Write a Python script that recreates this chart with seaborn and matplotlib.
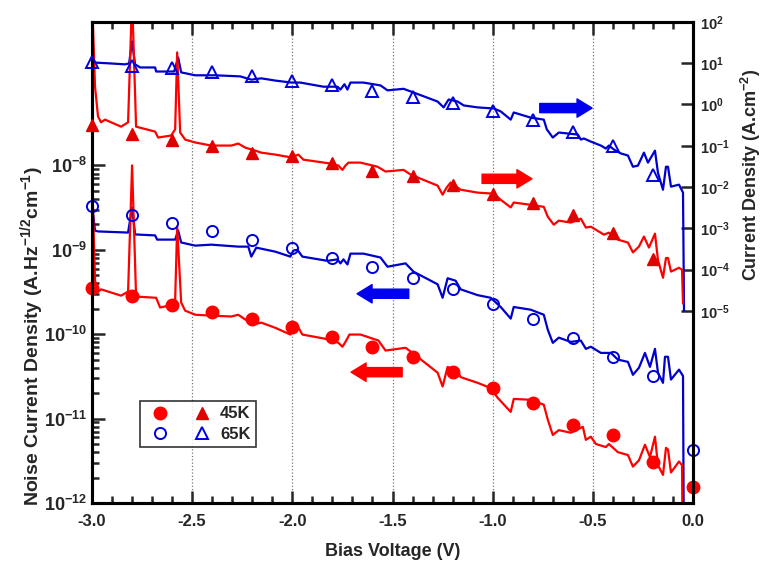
import matplotlib
matplotlib.use("Agg")
import matplotlib.pyplot as plt
import matplotlib.ticker as mticker
from matplotlib.legend_handler import HandlerTuple
import seaborn as sns

# current density 65K (right axis)
v_j65 = [-3.0, -2.99, -2.91, -2.835, -2.815, -2.80, -2.785, -2.76, -2.685, -2.68, -2.61, -2.59, -2.57, -2.555,
         -2.485, -2.385, -2.26, -2.205, -2.155, -2.085, -2.005, -1.96, -1.845, -1.775, -1.76, -1.74, -1.725, -1.71,
         -1.645, -1.56, -1.525, -1.445, -1.395, -1.275, -1.245, -1.22, -1.175, -1.145, -1.075, -0.995, -0.96, -0.91,
         -0.895, -0.81, -0.745, -0.73, -0.70, -0.67, -0.625, -0.575, -0.56, -0.545, -0.51, -0.46, -0.435, -0.42,
         -0.395, -0.36, -0.325, -0.30, -0.275, -0.245, -0.225, -0.19, -0.175, -0.15, -0.135, -0.125, -0.11, -0.07,
         -0.05, -0.045]
j65 = [16.4, 10.4, 9.9, 9.4, 9.9, 33.8, 9.4, 7.9, 7.9, 6.3, 6.3, 6.3, 13.8, 6.0,
       5.1, 5.1, 4.8, 4.0, 4.3, 3.8, 3.4, 3.4, 2.7, 2.7, 2.3, 3.1, 2.3, 3.4,
       3.4, 2.9, 2.2, 2.4, 1.95, 1.18, 0.85, 1.32, 1.18, 0.95, 0.85, 0.80, 0.68, 0.43,
       0.64, 0.48, 0.43, 0.25, 0.158, 0.209, 0.198, 0.187, 0.141, 0.150, 0.126, 0.101, 0.0855, 0.101,
       0.081, 0.065, 0.058, 0.031, 0.033, 0.068, 0.039, 0.076, 0.022, 0.0086, 0.031, 0.031, 0.0102, 0.0114,
       0.0073, 1e-5]

# current density 45K (right axis)
v_j45 = [-3.0, -2.985, -2.97, -2.955, -2.935, -2.855, -2.82, -2.80, -2.78, -2.685, -2.67, -2.605, -2.585, -2.575,
         -2.56, -2.535, -2.485, -2.405, -2.305, -2.27, -2.235, -2.185, -2.155, -2.085, -2.005, -1.97, -1.945, -1.81,
         -1.77, -1.75, -1.735, -1.72, -1.66, -1.575, -1.535, -1.445, -1.41, -1.275, -1.25, -1.23, -1.21, -1.16,
         -1.075, -0.995, -0.96, -0.91, -0.895, -0.81, -0.745, -0.725, -0.695, -0.67, -0.61, -0.56, -0.535, -0.51,
         -0.445, -0.42, -0.375, -0.325, -0.30, -0.27, -0.245, -0.22, -0.19, -0.175, -0.15, -0.135, -0.125, -0.11,
         -0.07, -0.055, -0.05]
j45 = [400, 2.7, 0.51, 0.37, 0.43, 0.29, 0.37, 400, 0.29, 0.22, 0.158, 0.177, 0.25, 18.3,
       0.209, 0.141, 0.120, 0.101, 0.101, 0.113, 0.090, 0.076, 0.068, 0.061, 0.052, 0.061, 0.046, 0.037,
       0.033, 0.026, 0.033, 0.039, 0.039, 0.031, 0.0237, 0.026, 0.020, 0.0108, 0.0065, 0.0097, 0.0128, 0.0086,
       0.0073, 0.0069, 0.0049, 0.0032, 0.0042, 0.0037, 0.0033, 0.0019, 0.00122, 0.00153, 0.00137, 0.00171, 0.00104, 0.00109,
       0.0007, 0.00078, 0.00053, 0.00045, 0.00026, 0.00036, 0.00063, 0.00034, 0.00074, 0.00017, 6.3e-5, 0.00019, 0.00019, 8.9e-5,
       0.00011, 9.9e-5, 1.5e-5]

# noise current density 65K (left axis)
v_n65 = [-3.0, -2.985, -2.97, -2.82, -2.80, -2.785, -2.685, -2.675, -2.585, -2.57, -2.555, -2.485, -2.405, -2.27,
         -2.22, -2.205, -2.18, -2.085, -2.01, -1.995, -1.975, -1.95, -1.825, -1.775, -1.76, -1.745, -1.725, -1.71,
         -1.645, -1.56, -1.525, -1.435, -1.395, -1.275, -1.25, -1.225, -1.185, -1.16, -1.075, -1.01, -0.96, -0.91,
         -0.895, -0.81, -0.745, -0.725, -0.70, -0.67, -0.61, -0.56, -0.535, -0.51, -0.46, -0.41, -0.375, -0.325,
         -0.30, -0.27, -0.24, -0.215, -0.19, -0.175, -0.15, -0.14, -0.125, -0.11, -0.07, -0.05, -0.045]
n65 = [3.4e-9, 1.69e-9, 1.65e-9, 1.60e-9, 3.17e-9, 1.52e-9, 1.48e-9, 1.32e-9, 1.32e-9, 1.69e-9, 1.22e-9, 1.12e-9, 1.15e-9, 1.09e-9,
       1.09e-9, 8.3e-10, 1.06e-9, 9.5e-10, 8.3e-10, 9.8e-10, 1.0e-9, 8.3e-10, 7.4e-10, 7.7e-10, 6.9e-10, 7.7e-10, 6.7e-10, 9.0e-10,
       9.0e-10, 8.1e-10, 6.3e-10, 6.9e-10, 5.5e-10, 3.9e-10, 2.7e-10, 4.6e-10, 4.3e-10, 3.4e-10, 2.9e-10, 2.7e-10, 2.1e-10, 1.53e-10,
       2.1e-10, 1.95e-10, 1.70e-10, 1.13e-10, 7.9e-11, 9.1e-11, 8.1e-11, 8.4e-11, 6.7e-11, 7.1e-11, 6.0e-11, 6.0e-11, 5.0e-11, 4.7e-11,
       3.3e-11, 4.0e-11, 6.0e-11, 4.1e-11, 6.7e-11, 3.5e-11, 2.65e-11, 5.4e-11, 5.4e-11, 2.9e-11, 3.8e-11, 3.2e-11, 1e-13]

# noise current density 45K (left axis)
v_n45 = [-3.0, -2.985, -2.975, -2.955, -2.855, -2.82, -2.80, -2.78, -2.68, -2.66, -2.595, -2.585, -2.575, -2.555,
         -2.535, -2.485, -2.405, -2.305, -2.27, -2.235, -2.18, -2.155, -2.085, -2.01, -1.995, -1.97, -1.95, -1.81,
         -1.77, -1.75, -1.735, -1.715, -1.66, -1.57, -1.535, -1.435, -1.40, -1.275, -1.25, -1.225, -1.175, -1.16,
         -1.075, -1.01, -0.975, -0.91, -0.895, -0.81, -0.745, -0.725, -0.70, -0.67, -0.61, -0.55, -0.535, -0.51,
         -0.485, -0.435, -0.42, -0.375, -0.325, -0.30, -0.27, -0.24, -0.215, -0.19, -0.175, -0.15, -0.135, -0.125,
         -0.11, -0.07, -0.055, -0.05]
n45 = [8e-9, 4.4e-10, 3.1e-10, 3.4e-10, 2.86e-10, 3.2e-10, 1.0e-8, 2.79e-10, 2.7e-10, 2.07e-10, 2.24e-10, 2.56e-10, 1.89e-9, 2.37e-10,
       1.90e-10, 1.70e-10, 1.66e-10, 1.62e-10, 1.70e-10, 1.49e-10, 1.33e-10, 1.37e-10, 1.19e-10, 9.9e-11, 1.23e-10, 1.2e-10, 9.9e-11, 8.6e-11,
       7.9e-11, 7.1e-11, 8.1e-11, 9.9e-11, 9.9e-11, 8.4e-11, 6.4e-11, 6.9e-11, 6.0e-11, 3.5e-11, 2.4e-11, 4.1e-11, 3.6e-11, 3.1e-11,
       2.65e-11, 2.3e-11, 1.76e-11, 1.20e-11, 1.71e-11, 1.67e-11, 1.46e-11, 9.7e-12, 6.4e-12, 7.3e-12, 6.8e-12, 8.0e-12, 5.6e-12, 6.1e-12,
       5.0e-12, 4.6e-12, 5.0e-12, 4.0e-12, 3.7e-12, 2.7e-12, 3.2e-12, 4.9e-12, 3.5e-12, 6.1e-12, 2.8e-12, 2.15e-12, 4.5e-12, 4.3e-12,
       2.3e-12, 3.1e-12, 2.8e-12, 1e-13]

# measured points
v_tri = [-3.0, -2.8, -2.6, -2.4, -2.2, -2.0, -1.8, -1.6, -1.4, -1.2, -1.0, -0.8, -0.6, -0.4, -0.2]
tri65 = [10.5, 8.4, 7.5, 6.3, 4.8, 3.8, 2.9, 2.07, 1.56, 1.06, 0.68, 0.41, 0.22, 0.096, 0.020]
tri45 = [0.31, 0.198, 0.141, 0.096, 0.068, 0.055, 0.039, 0.025, 0.018, 0.0114, 0.0069, 0.0042, 0.0021, 0.00078, 0.00018]
v_circ = [-3.0, -2.8, -2.6, -2.4, -2.2, -2.0, -1.8, -1.6, -1.4, -1.2, -1.0, -0.8, -0.6, -0.4, -0.2, 0.0]
circ65 = [3.26e-9, 2.55e-9, 2.05e-9, 1.65e-9, 1.32e-9, 1.06e-9, 7.9e-10, 6.3e-10, 4.6e-10, 3.4e-10, 2.3e-10,
          1.53e-10, 9.1e-11, 5.3e-11, 3.2e-11, 4.3e-12]
circ45 = [3.56e-10, 2.86e-10, 2.24e-10, 1.85e-10, 1.53e-10, 1.23e-10, 9.3e-11, 7.1e-11, 5.3e-11, 3.6e-11, 2.3e-11,
          1.54e-11, 8.4e-12, 6.4e-12, 3.1e-12, 1.55e-12]

sns.set_theme(style="ticks")
plt.rcParams["font.family"] = ["Liberation Sans", "DejaVu Sans"]
plt.rcParams["font.weight"] = "bold"
plt.rcParams["axes.labelweight"] = "bold"
plt.rcParams["axes.unicode_minus"] = False
plt.rcParams["mathtext.fontset"] = "custom"
plt.rcParams["mathtext.rm"] = "Liberation Sans:bold"
plt.rcParams["mathtext.bf"] = "Liberation Sans:bold"
plt.rcParams["mathtext.it"] = "Liberation Sans:bold"
plt.rcParams["mathtext.default"] = "bf"

red = "#ff0000"
red_m = "#e00000"
blue = "#0000cc"
blue_m = "#0000dd"

fig = plt.figure(figsize=(7.63, 5.71), dpi=100)
ax = fig.add_axes([0.1206, 0.1191, 0.7877, 0.8424])
ax2 = ax.twinx()

# noise lines + points (left axis)
sns.lineplot(x=v_n65, y=n65, ax=ax, color=blue, lw=1.6, sort=False, estimator=None)
sns.lineplot(x=v_n45, y=n45, ax=ax, color=red, lw=1.6, sort=False, estimator=None)
ax.plot(v_circ, circ65, ls="none", marker="o", ms=8, mfc="none", mec=blue_m, mew=1.4, clip_on=False, zorder=5)
ax.plot(v_circ, circ45, ls="none", marker="o", ms=9, mfc=red, mec=red, clip_on=False, zorder=5)

# current density lines + points (right axis)
sns.lineplot(x=v_j65, y=j65, ax=ax2, color=blue, lw=1.6, sort=False, estimator=None)
sns.lineplot(x=v_j45, y=j45, ax=ax2, color=red, lw=1.6, sort=False, estimator=None)
ax2.plot(v_tri, tri65, ls="none", marker="^", ms=8, mfc="none", mec=blue_m, mew=1.4, clip_on=False, zorder=5)
ax2.plot(v_tri, tri45, ls="none", marker="^", ms=9, mfc=red_m, mec=red_m, clip_on=False, zorder=5)

ax.set_yscale("log")
ax2.set_yscale("log")
ax.set_xlim(-3.0, 0.0)
ax.set_ylim(1e-12, 5e-7)
ax2.set_ylim(10 ** -9.66, 100)

ax.xaxis.set_major_locator(mticker.MultipleLocator(0.5))
ax.xaxis.set_minor_locator(mticker.MultipleLocator(0.1))
ax.xaxis.set_major_formatter(mticker.FormatStrFormatter("%.1f"))

left_major = [1e-12, 1e-11, 1e-10, 1e-9, 1e-8]
left_minor = [m * d for d in left_major[:-1] for m in range(2, 10)]
ax.yaxis.set_major_locator(mticker.FixedLocator(left_major))
ax.yaxis.set_minor_locator(mticker.FixedLocator(left_minor))
ax.yaxis.set_major_formatter(mticker.LogFormatterSciNotation())
ax.yaxis.set_minor_formatter(mticker.NullFormatter())

right_major = [1e-5, 1e-4, 1e-3, 1e-2, 1e-1, 1e0, 1e1, 1e2]
ax2.yaxis.set_major_locator(mticker.FixedLocator(right_major))
ax2.yaxis.set_minor_locator(mticker.NullLocator())
ax2.yaxis.set_major_formatter(mticker.LogFormatterSciNotation())

ax.tick_params(axis="x", which="both", direction="in", top=True, bottom=True, width=1.8, labelsize=12, pad=8)
ax.tick_params(axis="x", which="major", length=9)
ax.tick_params(axis="x", which="minor", length=5)
ax.tick_params(axis="y", which="both", direction="in", left=True, right=False, width=1.8, labelsize=13)
ax.tick_params(axis="y", which="major", length=9)
ax.tick_params(axis="y", which="minor", length=5)
ax2.tick_params(axis="y", which="major", direction="in", right=True, length=9, width=1.8, labelsize=10.5, pad=5)

for a in (ax, ax2):
    for s in a.spines.values():
        s.set_linewidth(2.2)
        s.set_color("black")

ax.grid(axis="x", which="major", linestyle=":", color="#777777", lw=0.9)
ax.set_xlabel("Bias Voltage (V)", fontsize=13, fontweight="bold", labelpad=10)
ax.set_ylabel(r"Noise Current Density (A.Hz$^{-1/2}$cm$^{-1}$)", fontsize=14, fontweight="bold")
ax.yaxis.set_label_coords(-0.076, 0.347)
ax2.set_ylabel(r"Current Density (A.cm$^{-2}$)", fontsize=13, fontweight="bold")
ax2.yaxis.set_label_coords(1.077, 0.682)

for lab in ax.get_xticklabels() + ax.get_yticklabels() + ax2.get_yticklabels():
    lab.set_fontweight("bold")

# direction arrows
arrow_style = "simple,head_length=0.9,head_width=1.1,tail_width=0.55"
for tail, head, col in [((0.745, 0.821), (0.832, 0.821), "#0000ee"),
                        ((0.649, 0.674), (0.732, 0.674), "#ff0000"),
                        ((0.527, 0.435), (0.441, 0.435), "#0000ee"),
                        ((0.516, 0.272), (0.431, 0.272), "#ff0000")]:
    ax.annotate("", xy=head, xytext=tail, xycoords="axes fraction", textcoords="axes fraction",
                arrowprops=dict(arrowstyle=arrow_style, color=col, mutation_scale=12, shrinkA=0, shrinkB=0))

# legend: circle + triangle per temperature
c45, = ax.plot([], [], ls="none", marker="o", ms=9, mfc=red, mec=red)
t45, = ax.plot([], [], ls="none", marker="^", ms=9, mfc=red_m, mec=red_m)
c65, = ax.plot([], [], ls="none", marker="o", ms=8, mfc="none", mec=blue_m, mew=1.4)
t65, = ax.plot([], [], ls="none", marker="^", ms=8, mfc="none", mec=blue_m, mew=1.4)
leg = ax2.legend([(c45, t45), (c65, t65)], ["45K", "65K"],
                 handler_map={tuple: HandlerTuple(ndivide=None, pad=0.7)},
                 loc="lower left", bbox_to_anchor=(0.08, 0.116), borderaxespad=0,
                 handlelength=4.3, fontsize=12, frameon=True, fancybox=False, edgecolor="black",
                 borderpad=0.3, labelspacing=0.35, handletextpad=0.2)
leg.get_frame().set_linewidth(1.2)
for t in leg.get_texts():
    t.set_fontweight("bold")

fig.savefig("out.png", dpi=100)
